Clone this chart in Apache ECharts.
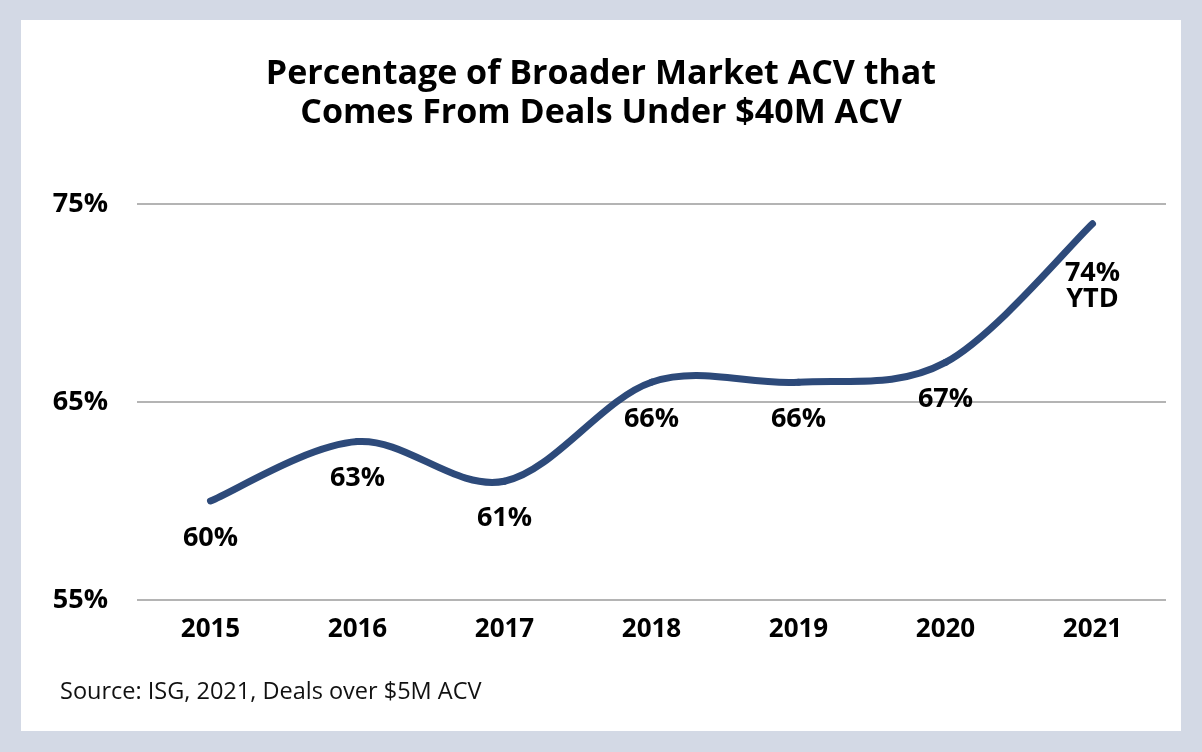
<!DOCTYPE html>
<html>
<head>
<meta charset="utf-8">
<script src="https://cdn.jsdelivr.net/npm/echarts@6/dist/echarts.min.js"></script>
<style>
html,body{margin:0;padding:0;background:#d3d9e5;}
#chart{width:1202px;height:752px;}
</style>
</head>
<body>
<div id="chart"></div>
<script>
const categories = ['2015','2016','2017','2018','2019','2020','2021'];
const shareValues = [60, 63, 61, 66, 66, 67, 74];
const pointLabels = ['60%','63%','61%','66%','66%','67%','74%\nYTD'];
const yTicks = [55, 65, 75];

const chart = echarts.init(document.getElementById('chart'));
const font = '"Open Sans", "Noto Sans", sans-serif';
const lineColor = '#2d4a7a';

// Smooth curve (Catmull-Rom style) drawn segment by segment through axis coordinates
function renderSegment(params, api) {
  const i = params.dataIndex;
  const n = shareValues.length;
  if (i >= n - 1) return null;
  const clampIdx = k => Math.max(0, Math.min(n - 1, k));
  const pt = k => api.coord([clampIdx(k), shareValues[clampIdx(k)]]);
  const p0 = pt(i - 1), p1 = pt(i), p2 = pt(i + 1), p3 = pt(i + 2);
  const t = 1 / 6;
  return {
    type: 'bezierCurve',
    shape: {
      x1: p1[0], y1: p1[1],
      cpx1: p1[0] + (p2[0] - p0[0]) * t, cpy1: p1[1] + (p2[1] - p0[1]) * t,
      cpx2: p2[0] - (p3[0] - p1[0]) * t, cpy2: p2[1] - (p3[1] - p1[1]) * t,
      x2: p2[0], y2: p2[1]
    },
    style: { stroke: lineColor, lineWidth: 7, fill: null, lineCap: 'round' }
  };
}

chart.setOption({
  backgroundColor: '#d3d9e5',
  animation: false,
  textStyle: { fontFamily: font },
  graphic: [
    { type: 'rect', z: -10, shape: { x: 21, y: 20, width: 1160, height: 711 }, style: { fill: '#ffffff' } },
    { type: 'text', left: 60, top: 680, style: { text: 'Source: ISG, 2021, Deals over $5M ACV', fontFamily: font, fontSize: 23.5, fill: '#111111' } }
  ],
  title: {
    text: 'Percentage of Broader Market ACV that\nComes From Deals Under $40M ACV',
    left: 'center',
    top: 50,
    textStyle: { fontFamily: font, fontWeight: 'bold', fontSize: 34, lineHeight: 39, color: '#000000' }
  },
  grid: { left: 137, right: 36, top: 204, bottom: 152 },
  xAxis: {
    type: 'category',
    data: categories,
    boundaryGap: true,
    axisLine: { show: false },
    axisTick: { show: false },
    axisLabel: { margin: 17, fontFamily: font, fontWeight: 'bold', fontSize: 26, color: '#000000' }
  },
  yAxis: {
    type: 'value',
    min: yTicks[0],
    max: yTicks[yTicks.length - 1],
    interval: 10,
    axisLine: { show: false },
    axisTick: { show: false },
    splitLine: { lineStyle: { color: '#b4b4b4', width: 2 } },
    axisLabel: { margin: 29, formatter: '{value}%', fontFamily: font, fontWeight: 'bold', fontSize: 27, color: '#000000' }
  },
  series: [
    {
      type: 'custom',
      data: shareValues,
      renderItem: renderSegment,
      z: 2
    },
    {
      type: 'line',
      data: shareValues,
      symbol: 'circle',
      symbolSize: 2,
      showSymbol: true,
      itemStyle: { color: lineColor },
      lineStyle: { width: 0, opacity: 0 },
      z: 3,
      label: {
        show: true,
        position: 'bottom',
        distance: 23,
        formatter: p => {
          const s = pointLabels[p.dataIndex];
          return s.indexOf('\n') >= 0 ? '{gap| }\n' + s : s;
        },
        fontFamily: font,
        fontWeight: 'bold',
        fontSize: 27,
        lineHeight: 26,
        color: '#000000',
        rich: { gap: { fontSize: 1, lineHeight: 13 } }
      }
    }
  ]
});
</script>
</body>
</html>
